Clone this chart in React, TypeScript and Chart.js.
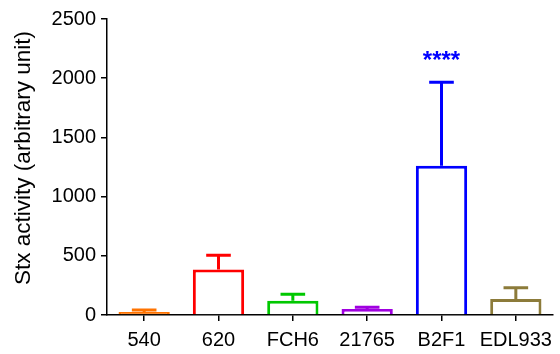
import React, { useEffect, useRef } from "react";
import { Chart, registerables } from "chart.js";

Chart.register(...registerables);

const categories = ["540", "620", "FCH6", "21765", "B2F1", "EDL933"];
const means = [25, 385, 120, 50, 1260, 135];
const errors = [17, 120, 55, 15, 705, 95];
const colors = ["#FF7300", "#FF0000", "#00C800", "#A000E0", "#0000FF", "#8C7B3A"];
const significance = ["", "", "", "", "****", ""];
const yTicks = [0, 500, 1000, 1500, 2000, 2500];

const FONT = "'Liberation Sans', Arial, sans-serif";
const BORDER = 3;

const errorBarPlugin = {
  id: "errorBars",
  afterDatasetsDraw(chart: any) {
    const ctx = chart.ctx;
    const meta = chart.getDatasetMeta(0);
    const y = chart.scales.y;
    ctx.save();
    meta.data.forEach((bar: any, i: number) => {
      const top = y.getPixelForValue(means[i]);
      const errTop = y.getPixelForValue(means[i] + errors[i]);
      const capHalf = bar.width * 0.24;
      ctx.strokeStyle = colors[i];
      ctx.lineWidth = 3;
      ctx.beginPath();
      ctx.moveTo(bar.x, top);
      ctx.lineTo(bar.x, errTop);
      ctx.moveTo(bar.x - capHalf, errTop);
      ctx.lineTo(bar.x + capHalf, errTop);
      ctx.stroke();
      if (significance[i]) {
        ctx.fillStyle = colors[i];
        ctx.font = `bold 24px ${FONT}`;
        ctx.textAlign = "center";
        ctx.textBaseline = "alphabetic";
        ctx.fillText(significance[i], bar.x, errTop - 14);
      }
    });
    ctx.restore();
  },
};

const yTitlePlugin = {
  id: "yTitle",
  afterDraw(chart: any) {
    const ctx = chart.ctx;
    const area = chart.chartArea;
    ctx.save();
    ctx.translate(24, (area.top + area.bottom) / 2 - 9);
    ctx.rotate(-Math.PI / 2);
    ctx.font = `22.5px ${FONT}`;
    ctx.fillStyle = "#000";
    ctx.textAlign = "center";
    ctx.textBaseline = "middle";
    ctx.fillText("Stx activity (arbitrary unit)", 0, 0);
    ctx.restore();
  },
};

export default function App() {
  const ref = useRef<HTMLCanvasElement>(null);
  useEffect(() => {
    document.body.style.margin = "0";
    const chart = new Chart(ref.current!, {
      type: "bar",
      data: {
        labels: categories,
        datasets: [
          {
            data: means,
            backgroundColor: (c: any) => {
              const ys = c.chart.scales && c.chart.scales.y;
              if (ys && typeof c.raw === "number") {
                const h = Math.abs(ys.getPixelForValue(0) - ys.getPixelForValue(c.raw));
                if (h <= BORDER * 1.5) return colors[c.dataIndex];
              }
              return "#ffffff";
            },
            borderColor: colors,
            borderWidth: BORDER,
            borderSkipped: "bottom",
            barPercentage: 0.69,
            categoryPercentage: 1,
          },
        ],
      },
      options: {
        animation: false,
        responsive: false,
        devicePixelRatio: 1,
        layout: { padding: { top: 19, right: 7, left: 0, bottom: 0 } },
        plugins: { legend: { display: false }, tooltip: { enabled: false } },
        scales: {
          x: {
            grid: {
              display: true,
              drawOnChartArea: false,
              drawTicks: true,
              tickLength: 6,
              offset: false,
              color: "#000",
              lineWidth: 1.5,
            },
            border: { display: true, color: "#000", width: 1.5 },
            ticks: {
              color: "#000",
              font: { family: FONT, size: 20 },
              padding: 7,
              maxRotation: 0,
              autoSkip: false,
            },
            afterFit(scale: any) {
              scale.height = 39;
            },
          },
          y: {
            min: 0,
            max: 2500,
            afterBuildTicks(scale: any) {
              scale.ticks = yTicks.map((v) => ({ value: v }));
            },
            grid: {
              display: true,
              drawOnChartArea: false,
              drawTicks: true,
              tickLength: 6,
              color: "#000",
              lineWidth: 1.5,
            },
            border: { display: true, color: "#000", width: 1.5 },
            ticks: {
              color: "#000",
              font: { family: FONT, size: 20 },
              padding: 5,
              callback: (v: any) => String(v),
            },
            afterFit(scale: any) {
              scale.width = 107;
            },
          },
        },
      },
      plugins: [errorBarPlugin, yTitlePlugin],
    });
    return () => chart.destroy();
  }, []);
  return (
    <div style={{ width: 560, height: 354 }}>
      <canvas ref={ref} width={560} height={354} />
    </div>
  );
}
